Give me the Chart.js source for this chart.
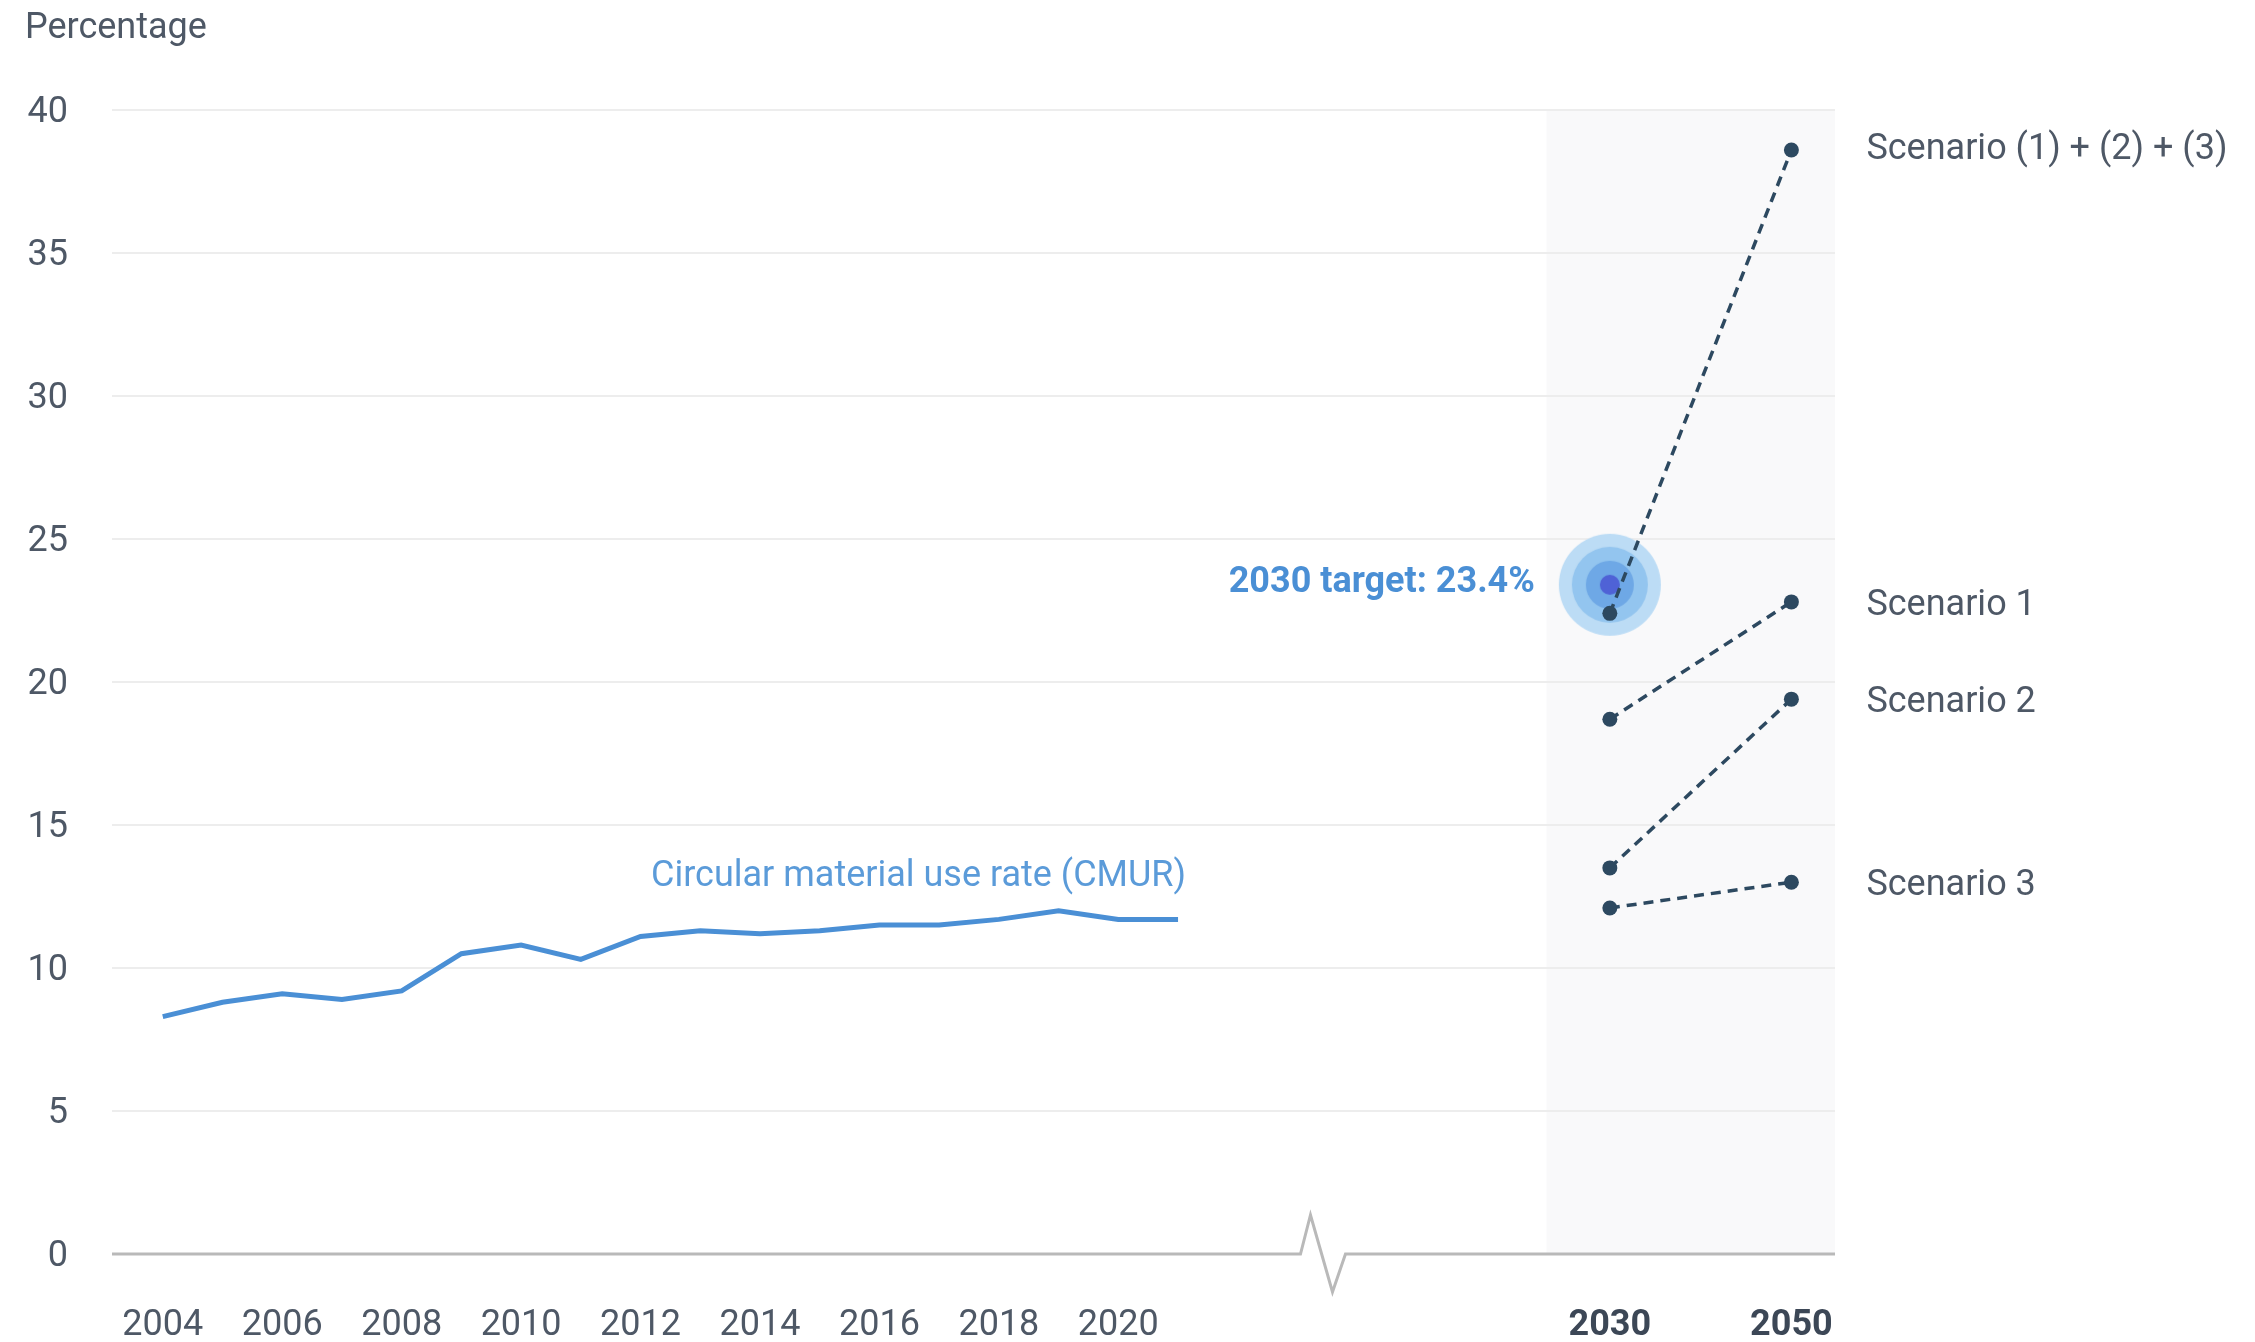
<!DOCTYPE html>
<html lang="en">
<head>
    <meta charset="UTF-8">
    <title>Circular material use rate</title>
    <script src="https://cdn.jsdelivr.net/npm/chart.js"></script>
</head>
<style>
    html, body { margin: 0; padding: 0; background: #ffffff; }
    #cmurChart { display: block; }
</style>
<body>
    <canvas id="cmurChart" width="2255" height="1342"></canvas>

    <script>
        // observed series
        const years = [2004, 2005, 2006, 2007, 2008, 2009, 2010, 2011, 2012, 2013, 2014, 2015, 2016, 2017, 2018, 2019, 2020, 2021];
        const cmurRate = [8.3, 8.8, 9.1, 8.9, 9.2, 10.5, 10.8, 10.3, 11.1, 11.3, 11.2, 11.3, 11.5, 11.5, 11.7, 12.0, 11.7, 11.7];

        // projections
        const scenarioYears = [2030, 2050];
        const scenarioNames = ['Scenario (1) + (2) + (3)', 'Scenario 1', 'Scenario 2', 'Scenario 3'];
        const scenarioCombined = [22.4, 38.6];
        const scenario1 = [18.7, 22.8];
        const scenario2 = [13.5, 19.4];
        const scenario3 = [12.1, 13.0];
        const targetYear = 2030;
        const targetValue = 23.4;

        // ticks
        const xTickYears = [2004, 2006, 2008, 2010, 2012, 2014, 2016, 2018, 2020, 2030, 2050];
        const yTickValues = [0, 5, 10, 15, 20, 25, 30, 35, 40];

        // the axis is broken after the observed years, projection years are squeezed to the right
        const lastObserved = 2021;
        const projectedSlot = { 2030: 2028.23, 2050: 2031.27 };
        function axisX(year) {
            return year <= lastObserved ? year : projectedSlot[year];
        }
        function yearFromAxis(v) {
            for (const y in projectedSlot) {
                if (Math.abs(projectedSlot[y] - v) < 0.01) return y;
            }
            return String(Math.round(v));
        }

        const fontFamily = 'Roboto, "Noto Sans", sans-serif';
        const fontSize = 36;
        const textGrey = '#4e5866';
        const dotColor = '#2d4960';

        function makeTargetRings() {
            const c = document.createElement('canvas');
            c.width = 106;
            c.height = 106;
            const g = c.getContext('2d');
            const rings = [[51, '#bcdcf5'], [38, '#93c5ef'], [24, '#6ea8e6'], [10, '#4f62d6']];
            rings.forEach(([r, col]) => {
                g.beginPath();
                g.arc(53, 53, r, 0, Math.PI * 2);
                g.fillStyle = col;
                g.fill();
            });
            return c;
        }

        const scenarioValues = [scenarioCombined, scenario1, scenario2, scenario3];

        const datasets = [{
            label: 'Circular material use rate (CMUR)',
            data: years.map((y, i) => ({ x: axisX(y), y: cmurRate[i] })),
            borderColor: '#4a8fd5',
            borderWidth: 5,
            pointRadius: 0,
            tension: 0,
            order: 1
        }];
        scenarioValues.forEach((vals, i) => {
            datasets.push({
                label: scenarioNames[i],
                data: scenarioYears.map((y, j) => ({ x: axisX(y), y: vals[j] })),
                borderColor: dotColor,
                borderWidth: 3.5,
                borderDash: [10, 7],
                pointRadius: 7.5,
                pointBackgroundColor: dotColor,
                pointBorderWidth: 0,
                order: 0
            });
        });
        datasets.push({
            label: 'target',
            data: [{ x: axisX(targetYear), y: targetValue }],
            showLine: false,
            pointStyle: makeTargetRings(),
            pointRadius: 51,
            order: 10
        });

        const decorations = {
            id: 'decorations',
            beforeDraw(chart) {
                const { ctx, chartArea, scales } = chart;
                const xs = scales.x, ys = scales.y;
                // shaded projection band
                const left = xs.getPixelForValue(axisX(2030) - 1.06);
                ctx.save();
                ctx.fillStyle = '#f9f9fa';
                ctx.fillRect(left, ys.getPixelForValue(40), chartArea.right - left, ys.getPixelForValue(0) - ys.getPixelForValue(40));
                ctx.restore();
            },
            beforeDatasetsDraw(chart) {
                const { ctx, chartArea, scales } = chart;
                const y0 = scales.y.getPixelForValue(0);
                const bx = scales.x.getPixelForValue(2023.05);
                ctx.save();
                ctx.strokeStyle = '#b9b9b9';
                ctx.lineWidth = 3;
                ctx.lineJoin = 'miter';
                ctx.beginPath();
                ctx.moveTo(chartArea.left, y0);
                ctx.lineTo(bx, y0);
                ctx.lineTo(bx + 10, y0 - 39);
                ctx.lineTo(bx + 32, y0 + 38);
                ctx.lineTo(bx + 45, y0);
                ctx.lineTo(chartArea.right, y0);
                ctx.stroke();
                ctx.restore();
            },
            afterDatasetsDraw(chart) {
                const { ctx } = chart;
                ctx.save();
                ctx.textBaseline = 'middle';

                // scenario names next to the 2050 points
                ctx.font = fontSize + 'px ' + fontFamily;
                ctx.fillStyle = textGrey;
                ctx.textAlign = 'left';
                scenarioNames.forEach((name, i) => {
                    const p = chart.getDatasetMeta(i + 1).data[1];
                    ctx.fillText(name, p.x + 75, p.y + (i === 0 ? 0 : 4));
                });

                // observed series label
                const cm = chart.getDatasetMeta(0).data;
                const last = cm[cm.length - 1];
                ctx.fillStyle = '#5b9bd9';
                ctx.textAlign = 'right';
                ctx.fillText('Circular material use rate (CMUR)', last.x + 8, last.y - 42);

                // target label
                const t = chart.getDatasetMeta(datasets.length - 1).data[0];
                ctx.font = 'bold ' + fontSize + 'px ' + fontFamily;
                ctx.fillStyle = '#4a8fd5';
                ctx.fillText('2030 target: 23.4%', t.x - 75, t.y - 2);

                // y axis unit
                ctx.font = fontSize + 'px ' + fontFamily;
                ctx.fillStyle = textGrey;
                ctx.textAlign = 'left';
                ctx.fillText('Percentage', 25, 29);
                ctx.restore();
            }
        };

        const ctx = document.getElementById('cmurChart').getContext('2d');
        const chart = new Chart(ctx, {
            type: 'line',
            data: { datasets: datasets },
            plugins: [decorations],
            options: {
                responsive: false,
                animation: false,
                devicePixelRatio: 1,
                layout: {
                    padding: { top: 110, right: 420, bottom: 0, left: 0 }
                },
                plugins: {
                    legend: { display: false },
                    tooltip: { enabled: false }
                },
                scales: {
                    x: {
                        type: 'linear',
                        min: 2003.15,
                        max: 2032.0,
                        afterFit: (s) => { s.height = 88; },
                        afterBuildTicks: (s) => {
                            s.ticks = xTickYears.map(y => ({ value: axisX(y) }));
                        },
                        grid: { display: false, drawTicks: false },
                        border: { display: false },
                        ticks: {
                            padding: 50,
                            maxRotation: 0,
                            autoSkip: false,
                            color: (c) => c.tick && c.tick.value > lastObserved ? '#3c4756' : textGrey,
                            font: (c) => ({
                                family: fontFamily,
                                size: fontSize,
                                weight: c.tick && c.tick.value > lastObserved ? 'bold' : 'normal'
                            }),
                            callback: (v) => yearFromAxis(v)
                        }
                    },
                    y: {
                        min: 0,
                        max: 40,
                        afterFit: (s) => { s.width = 112; },
                        afterBuildTicks: (s) => {
                            s.ticks = yTickValues.map(v => ({ value: v }));
                        },
                        grid: {
                            drawTicks: false,
                            lineWidth: 2,
                            color: (c) => c.tick && c.tick.value === 0 ? 'rgba(0,0,0,0)' : '#ededed'
                        },
                        border: { display: false },
                        ticks: {
                            padding: 44,
                            labelOffset: 3,
                            color: textGrey,
                            font: { family: fontFamily, size: fontSize }
                        }
                    }
                }
            }
        });
    </script>
</body>
</html>
